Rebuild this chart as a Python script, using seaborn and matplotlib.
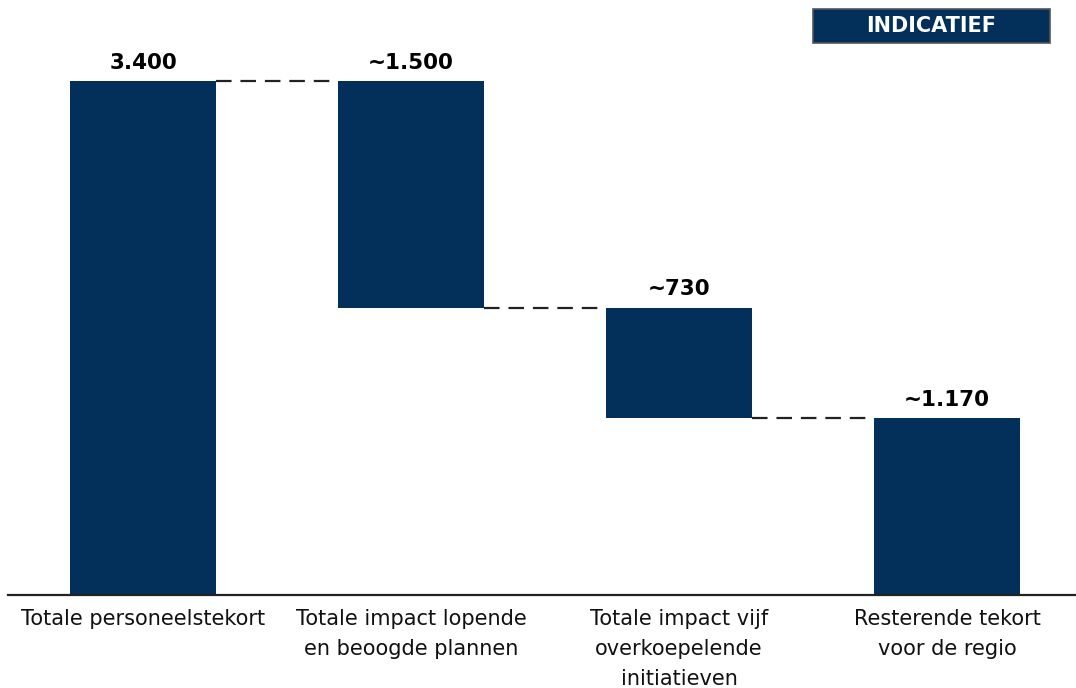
import matplotlib
matplotlib.use("Agg")
import matplotlib.pyplot as plt
import seaborn as sns
import pandas as pd
import numpy as np
from matplotlib.patches import Rectangle

categories = ["Totale personeelstekort",
              "Totale impact lopende\nen beoogde plannen",
              "Totale impact vijf\noverkoepelende\ninitiatieven",
              "Resterende tekort\nvoor de regio"]
values = [3400, 1500, 730, 1170]
value_labels = ["3.400", "~1.500", "~730", "~1.170"]
kinds = ["total", "delta", "delta", "total"]

# waterfall bottoms
bottoms = []
running = 0
for v, k in zip(values, kinds):
    if k == "total":
        bottoms.append(0)
        running = v
    else:
        running -= v
        bottoms.append(running)
tops = [b + v for b, v in zip(bottoms, values)]

df = pd.DataFrame({"cat": categories, "value": values})

sns.set_theme(style="white")
plt.rcParams["font.family"] = ["DejaVu Sans"]

fig = plt.figure(figsize=(10.76, 6.88), dpi=100)
ax = fig.add_axes([8/1076, (688-595)/688, 1068/1076, 585/688])

navy = "#032F5B"
sns.barplot(data=df, x="cat", y="value", color=navy, width=0.545,
            bottom=bottoms, saturation=1, ax=ax, edgecolor="none")

ax.set_xlim(-0.504, 3.481)
ax.set_ylim(0, 3869)

# connectors
hw = 0.545 / 2
for i in range(len(values) - 1):
    if kinds[i] == "total":
        level = tops[i]
    else:
        level = bottoms[i]
    ax.plot([i + hw, i + 1 - hw], [level, level], color="#222222",
            lw=1.6, dashes=(7, 4), zorder=3)

# value labels
for i, (t, lab) in enumerate(zip(tops, value_labels)):
    ax.text(i, t + 55, lab, ha="center", va="bottom", fontsize=15.5,
            fontweight="bold", color="black")

ax.set_xlabel("")
ax.set_ylabel("")
ax.set_yticks([])
ax.set_xticks(range(len(categories)))
ax.set_xticklabels(categories, fontsize=15, linespacing=1.62, color="#111111")
ax.tick_params(axis="x", length=0, pad=10)
for s in ["top", "right", "left"]:
    ax.spines[s].set_visible(False)
ax.spines["bottom"].set_color("#222222")
ax.spines["bottom"].set_linewidth(1.6)

# INDICATIEF box
fig.text((813 + 1050) / 2 / 1076, 1 - 26 / 688, "INDICATIEF", ha="center",
         va="center", fontsize=15, fontweight="bold", color="white")
fig.patches.append(Rectangle((813/1076, 1 - 43/688), 237/1076, 34/688,
                             transform=fig.transFigure, facecolor=navy,
                             edgecolor="#555555", lw=1.2, zorder=0))

fig.savefig("out.png", dpi=100)
